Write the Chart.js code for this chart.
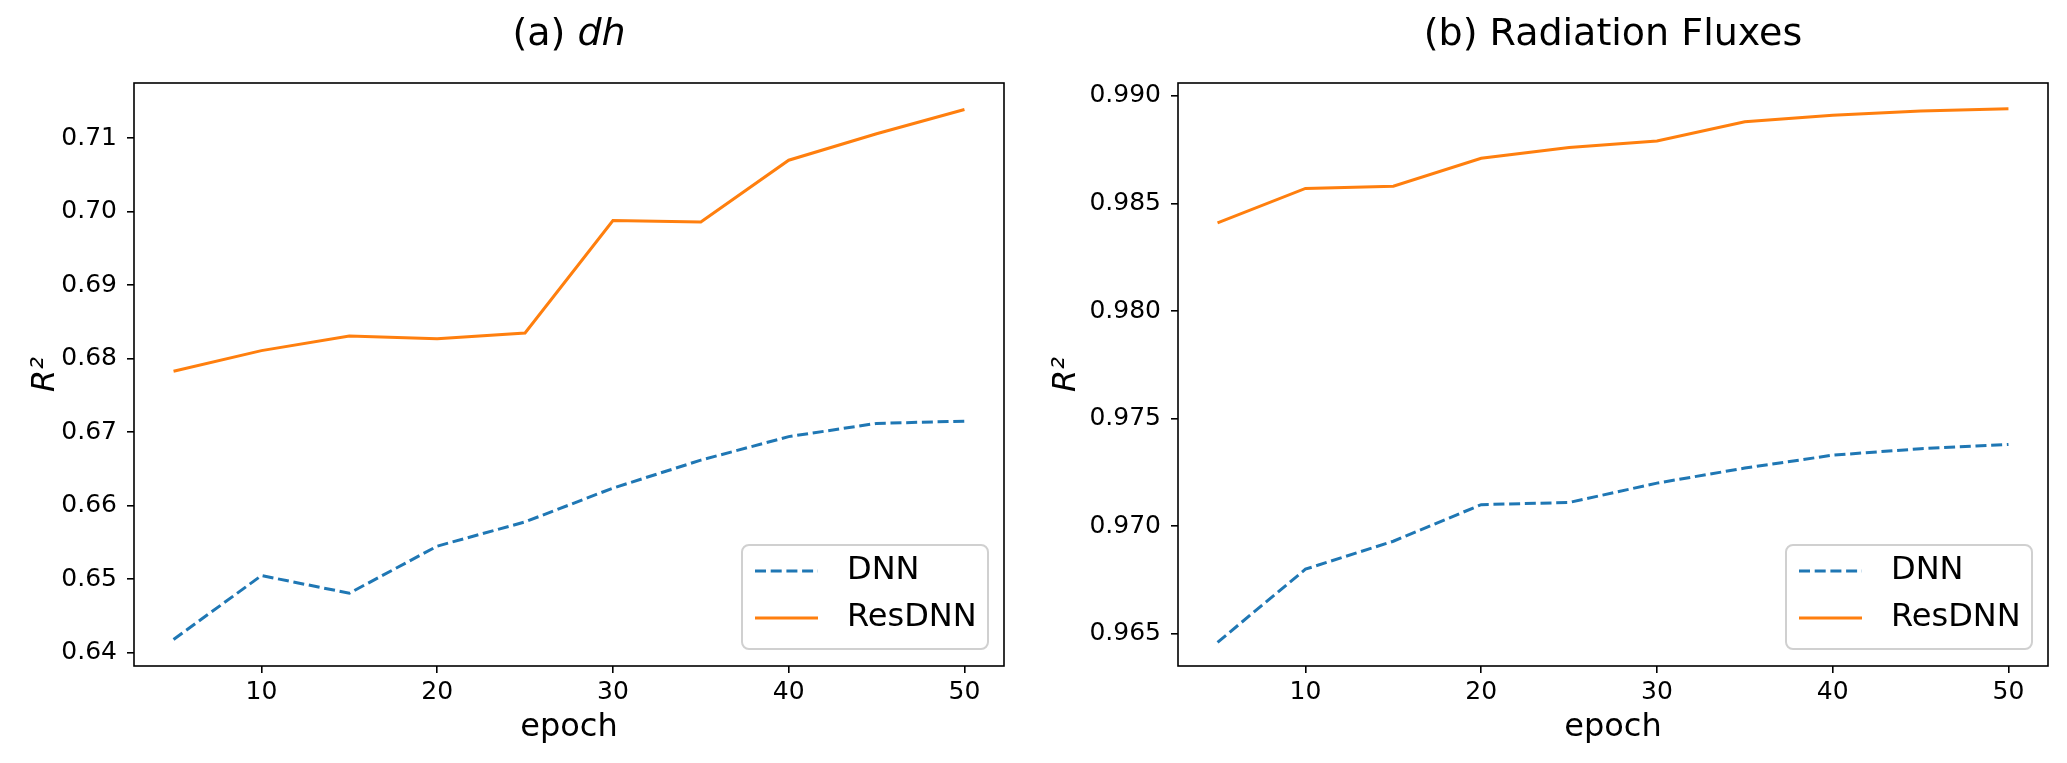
<!DOCTYPE html>
<html>
<head>
<meta charset="utf-8">
<script src="https://cdn.jsdelivr.net/npm/chart.js@4.4.1/dist/chart.umd.min.js"></script>
<style>
  html, body { margin: 0; padding: 0; background: #fff; }
  #wrap { position: relative; width: 2067px; height: 763px; }
  .panel { position: absolute; top: 0; height: 763px; }
  #p1 { left: 0; width: 1034px; }
  #p2 { left: 1034px; width: 1033px; }
</style>
</head>
<body>
<div id="wrap">
  <div class="panel" id="p1"><canvas id="dh"></canvas></div>
  <div class="panel" id="p2"><canvas id="rad"></canvas></div>
</div>
<script>
// values
const epochs = [5, 10, 15, 20, 25, 30, 35, 40, 45, 50];
const dnnDh = [0.6418, 0.6505, 0.6481, 0.6545, 0.6578, 0.6624, 0.6662, 0.6694, 0.6712, 0.6715];
const resDh = [0.6783, 0.6811, 0.6831, 0.6827, 0.6835, 0.6988, 0.6986, 0.7070, 0.7106, 0.7139];
const dnnRad = [0.9646, 0.9680, 0.9693, 0.9710, 0.9711, 0.9720, 0.9727, 0.9733, 0.9736, 0.9738];
const resRad = [0.9841, 0.9857, 0.9858, 0.9871, 0.9876, 0.9879, 0.9888, 0.9891, 0.9893, 0.9894];

const xTicks = [10, 20, 30, 40, 50];
const dhTicks = [0.64, 0.65, 0.66, 0.67, 0.68, 0.69, 0.70, 0.71];
const radTicks = [0.965, 0.970, 0.975, 0.980, 0.985, 0.990];

const titleDh = [{ text: '(a) ', italic: false }, { text: 'dh', italic: true }];
const titleRad = [{ text: '(b) Radiation Fluxes', italic: false }];

Chart.defaults.font.family = "'DejaVu Sans', sans-serif";
Chart.defaults.color = '#000';

const pairs = (xs, ys) => xs.map((x, i) => ({ x: x, y: ys[i] }));

// legend frame sits in the lower right corner of the plot area
function legendFrame(a) {
  const w = 246, h = 104;
  return { x: a.right - 16 - w, y: a.bottom - 17 - h, w: w, h: h };
}

// small line sample for the legend, same stroke as the dataset
function swatch(ds) {
  const c = document.createElement('canvas');
  c.width = 63;
  c.height = 6;
  const g = c.getContext('2d');
  g.strokeStyle = ds.borderColor;
  g.lineWidth = ds.borderWidth;
  g.setLineDash(ds.borderDash || []);
  g.beginPath();
  g.moveTo(0, 3);
  g.lineTo(63, 3);
  g.stroke();
  return c;
}

const frameBox = {
  id: 'frameBox',
  afterDraw(chart) {
    const { ctx, chartArea: a } = chart;
    ctx.save();
    ctx.strokeStyle = '#000';
    ctx.lineWidth = 1.6;
    ctx.strokeRect(a.left, a.top, a.right - a.left, a.bottom - a.top);
    ctx.restore();
  }
};

const legendInside = {
  id: 'legendInside',
  afterLayout(chart) {
    const lg = chart.legend, a = chart.chartArea;
    if (!lg || !a) return;
    const f = legendFrame(a);
    const pad = 15, half = 16;
    lg.left = f.x - 15;
    lg.top = f.y + 26 - pad - half;
    lg.right = f.x + f.w;
    lg.bottom = f.y + f.h + 20;
  },
  beforeDraw(chart) {
    const { ctx, chartArea: a } = chart;
    const f = legendFrame(a), r = 7;
    ctx.save();
    ctx.beginPath();
    ctx.roundRect(f.x, f.y, f.w, f.h, r);
    ctx.fillStyle = 'rgba(255,255,255,0.8)';
    ctx.fill();
    ctx.strokeStyle = '#d0d0d0';
    ctx.lineWidth = 2;
    ctx.stroke();
    ctx.restore();
  }
};

const panelTitle = {
  id: 'panelTitle',
  afterDraw(chart, args, opts) {
    const { ctx, chartArea: a } = chart;
    const parts = opts.parts;
    ctx.save();
    ctx.fillStyle = '#000';
    ctx.textBaseline = 'middle';
    ctx.textAlign = 'left';
    const fonts = parts.map(p => (p.italic ? 'italic ' : '') + '38px "DejaVu Sans"');
    let total = 0;
    const widths = parts.map((p, i) => {
      ctx.font = fonts[i];
      const w = ctx.measureText(p.text).width;
      total += w;
      return w;
    });
    let x = (a.left + a.right) / 2 - total / 2;
    parts.forEach((p, i) => {
      ctx.font = fonts[i];
      ctx.fillText(p.text, x, 35);
      x += widths[i];
    });
    ctx.restore();
  }
};

function makeChart(id, o) {
  const tickGrid = {
    display: true,
    drawOnChartArea: false,
    drawTicks: true,
    tickLength: 7,
    color: '#000',
    lineWidth: 1.6
  };
  return new Chart(document.getElementById(id), {
    type: 'line',
    data: {
      datasets: [
        {
          label: 'DNN',
          data: pairs(epochs, o.dnn),
          borderColor: '#1f77b4',
          backgroundColor: '#1f77b4',
          borderDash: [11, 4.7],
          borderWidth: 3,
          pointRadius: 0,
          tension: 0
        },
        {
          label: 'ResDNN',
          data: pairs(epochs, o.res),
          borderColor: '#ff7f0e',
          backgroundColor: '#ff7f0e',
          borderWidth: 3,
          pointRadius: 0,
          tension: 0
        }
      ]
    },
    options: {
      responsive: true,
      maintainAspectRatio: false,
      animation: false,
      layout: { padding: { top: 83, right: o.padRight, left: 0, bottom: 0 } },
      scales: {
        x: {
          type: 'linear',
          min: 2.75,
          max: 52.25,
          afterBuildTicks: s => { s.ticks = xTicks.map(v => ({ value: v })); },
          afterFit: s => { s.height = 97; },
          grid: tickGrid,
          border: { display: false },
          ticks: { font: { size: 25 }, color: '#000', padding: 4, maxRotation: 0 },
          title: { display: true, text: 'epoch', font: { size: 32 }, color: '#000', padding: { top: 0, bottom: 16 } }
        },
        y: {
          type: 'linear',
          min: o.yMin,
          max: o.yMax,
          afterBuildTicks: s => { s.ticks = o.yTicks.map(v => ({ value: v })); },
          afterFit: s => { s.width = o.axisWidth; },
          grid: tickGrid,
          border: { display: false },
          ticks: { font: { size: 25 }, color: '#000', padding: 10, callback: v => v.toFixed(o.decimals) },
          title: { display: true, text: 'R²', font: { size: 32, style: 'italic' }, color: '#000', padding: { top: o.yTitlePad, bottom: 0 } }
        }
      },
      plugins: {
        legend: {
          position: 'chartArea',
          align: 'start',
          labels: {
            usePointStyle: true,
            pointStyleWidth: 89,
            padding: 15,
            font: { size: 32 },
            color: '#000',
            generateLabels(chart) {
              const items = Chart.defaults.plugins.legend.labels.generateLabels(chart);
              items.forEach(it => {
                it.pointStyle = swatch(chart.data.datasets[it.datasetIndex]);
              });
              return items;
            }
          }
        },
        title: { display: false },
        tooltip: { enabled: false },
        panelTitle: { parts: o.title }
      }
    },
    plugins: [frameBox, legendInside, panelTitle]
  });
}

makeChart('dh', {
  dnn: dnnDh, res: resDh, yTicks: dhTicks, yMin: 0.6382, yMax: 0.7175,
  decimals: 2, axisWidth: 134, padRight: 30, yTitlePad: 26, title: titleDh
});
makeChart('rad', {
  dnn: dnnRad, res: resRad, yTicks: radTicks, yMin: 0.9635, yMax: 0.9906,
  decimals: 3, axisWidth: 144, padRight: 19, yTitlePad: 13, title: titleRad
});
</script>
</body>
</html>
